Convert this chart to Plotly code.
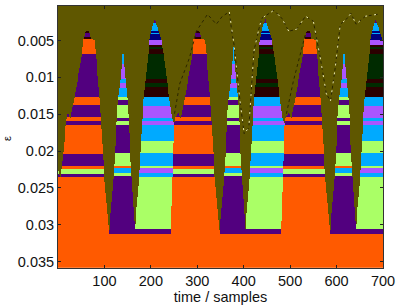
import numpy as np
import plotly.graph_objects as go

colors = ["#5f5700", "#ff5a00", "#52007f", "#aaff66", "#00aaff", "#aa55ff", "#002b00", "#2b0000", "#00007f"]
OLIVE, ORANGE, PURPLE, GREEN, SKY, LILAC, DGREEN, MAROON, NAVY = range(9)

period = 238
n_samples = 700

env_s = [11.8, 15, 21.4, 25.6, 27.8, 35.9, 51.7, 53.4, 56.6, 58.8, 63, 67.3, 70.5, 78.6, 81.6, 89.3, 93, 95.7, 99.4, 110,
         119, 123, 125, 130, 135, 140, 143, 145.7, 150, 152.8, 155, 157, 165.5,
         174, 177.4, 180.6, 184.9, 194.5, 196.6, 203, 208.4, 213.7, 223.3, 227.6, 239.3, 245.8]
env_eps = [.01629, .01548, .01481, .01562, .01535, .01265, .00685, .00489, .00483, .00388, .00361, .00388, .00483, .00492, .00685, .01265, .01643, .01926, .02344, .03113,
           .02439, .02034, .01643, .01265, .01022, .0055, .0082, .01022, .01319, .01643, .01994, .02209, .03059,
           .02439, .02034, .01643, .01265, .00685, .0051, .00307, .00213, .00307, .0051, .00685, .01265, .01562]
start_s = [1, 5.3, 9.6, 13.9, 17]
start_eps = [.02263, .02371, .02128, .01859, .01616]

a_bottoms = [.00398, .00452, .00483, .00685, .01265, .01373, .01544, .01589, .01643, .02038, .02209, .02243, .02308, .02354, .0365]
a_colors = [MAROON, PURPLE, MAROON, ORANGE, PURPLE, ORANGE, PURPLE, ORANGE, PURPLE, ORANGE, PURPLE, ORANGE, GREEN, PURPLE, ORANGE]
b_bottoms = [.0082, .01022, .01076, .01144, .01265, .01305, .01373, .01548, .01589, .01643, .02034, .02209, .02236, .023, .02344, .03127, .0365]
b_colors = [SKY, LILAC, SKY, LILAC, SKY, GREEN, PURPLE, GREEN, PURPLE, GREEN, PURPLE, GREEN, ORANGE, SKY, GREEN, PURPLE, ORANGE]
c_bottoms = [.00267, .00375, .00395, .00415, .00489, .00557, .00591, .00618, .00685, .01022, .01076, .0113, .01265, .01386, .01548, .01589, .01643, .01872, .02034, .02209, .02236, .02304, .02351, .03059, .03127, .0365]
c_colors = [PURPLE, SKY, NAVY, SKY, NAVY, LILAC, MAROON, DGREEN, MAROON, DGREEN, MAROON, DGREEN, MAROON, SKY, LILAC, SKY, LILAC, SKY, GREEN, SKY, GREEN, LILAC, SKY, GREEN, PURPLE, ORANGE]
a_end_s = 110
b_end_s = 165.5
c_end_eps = [.0163, .0226, .03127]
c_end_s = [249.6, 247, 242.6]

dark_s = [251, 262, 283, 298, 322, 341, 354, 369, 375, 379, 392, 401, 411, 422, 433, 439, 465, 482, 497, 514, 533, 550, 565, 578, 587, 597, 608, 621, 631, 642, 662, 689]
dark_eps = [.01494, .0109, .00739, .00375, .00145, .0028, .00172, .00114, .00415, .0055, .01319, .01764, .01683, .00645, .00334, .00199, .00091, .00199, .00375, .00348, .00172, .0024, .00739, .01225, .01319, .00874, .0028, .00213, .00132, .0028, .00172, .00145]
pale_s = [369, 375, 379, 392, 401, 411, 422, 433, 439, 465, 482, 497, 514, 533, 550, 565, 578, 587, 597, 608, 621, 631, 642, 662, 689]
pale_eps = [.00114, .00415, .0055, .01319, .01764, .01683, .00645, .00334, .00199, .00091, .00199, .00375, .00348, .00172, .0024, .00739, .01225, .01319, .00874, .0028, .00213, .00132, .0028, .00172, .00145]
edge_s = [492, 507, 518, 533]
edge_eps = [.01494, .0105, .0078, .00415]

x_ticks = [100, 200, 300, 400, 500, 600, 700]
y_ticks = [0.005, 0.01, 0.015, 0.02, 0.025, 0.03, 0.035]
y_labels = ["0.005", "0.01", "0.015", "0.02", "0.025", "0.03", "0.035"]

xs = np.arange(n_samples) + 0.5
ys = np.arange(0.00033, 0.03590, 0.00006)

full_s = list(start_s) + [s for s in env_s[2:]]
full_eps = list(start_eps) + [e for e in env_eps[2:]]
for k in (1, 2):
    full_s += [s + k * period for s in env_s]
    full_eps += list(env_eps)
envelope = np.interp(xs, full_s, full_eps)

def bands(bottoms, cols):
    idx = np.searchsorted(bottoms, ys)
    return np.array(cols)[np.clip(idx, 0, len(cols) - 1)]

a_rows, b_rows, c_rows = bands(a_bottoms, a_colors), bands(b_bottoms, b_colors), bands(c_bottoms, c_colors)
c_end = np.interp(ys, c_end_eps, c_end_s)
rel = ((xs - env_s[0]) % period) + env_s[0]

z = np.zeros((len(ys), n_samples), dtype=int)
for i in range(len(ys)):
    row = np.where(rel < a_end_s, a_rows[i], np.where(rel < b_end_s, b_rows[i], np.where(rel < c_end[i], c_rows[i], a_rows[i])))
    row = np.where(xs < env_s[0], a_rows[i], row)
    z[i] = np.where(ys[i] < envelope, OLIVE, row)

n = len(colors)
scale = []
for i, c in enumerate(colors):
    scale += [[i / n, c], [(i + 1) / n, c]]

fig = go.Figure()
fig.add_trace(go.Heatmap(x=xs, y=ys, z=z.tolist(), colorscale=scale, zmin=-0.5, zmax=n - 0.5, showscale=False, hoverinfo="skip"))
fig.add_trace(go.Scatter(x=dark_s, y=dark_eps, mode="lines", line=dict(color="#2b2600", width=1, dash="3px,3px"), showlegend=False))
fig.add_trace(go.Scatter(x=edge_s, y=edge_eps, mode="lines", line=dict(color="#2b2600", width=1, dash="3px,3px"), showlegend=False))
fig.add_trace(go.Scatter(x=pale_s, y=pale_eps, mode="lines", line=dict(color="#f0eeb0", width=1, dash="2px,7px"), showlegend=False))

font = dict(family="Liberation Sans, Arial, sans-serif", size=14.5, color="#111111")
fig.update_layout(
    width=400, height=305, margin=dict(l=58, r=15, t=5, b=37),
    paper_bgcolor="white", plot_bgcolor="white", font=font, showlegend=False,
    xaxis=dict(range=[0, 700], tickvals=x_ticks, ticks="inside", ticklen=3, tickcolor="#222222", mirror="ticks",
               showline=True, linecolor="#333333", linewidth=1, showgrid=False, zeroline=False,
               title=dict(text="time / samples", font=font, standoff=0)),
    yaxis=dict(range=[0.03585, 0.00033], tickvals=y_ticks, ticktext=y_labels, ticks="inside", ticklen=3, tickcolor="#222222", mirror="ticks",
               showline=True, linecolor="#333333", linewidth=1, showgrid=False, zeroline=False),
    annotations=[dict(text="ε", xref="paper", yref="paper", x=-0.155, y=0.495, xanchor="center", yanchor="middle", showarrow=False, textangle=-90,
                      font=dict(family="Liberation Sans, Arial, sans-serif", size=11, color="#111111"))],
)
fig.write_html("out.html", config=dict(displayModeBar=False), post_script="document.body.style.margin='0';document.documentElement.style.overflow='hidden';")
